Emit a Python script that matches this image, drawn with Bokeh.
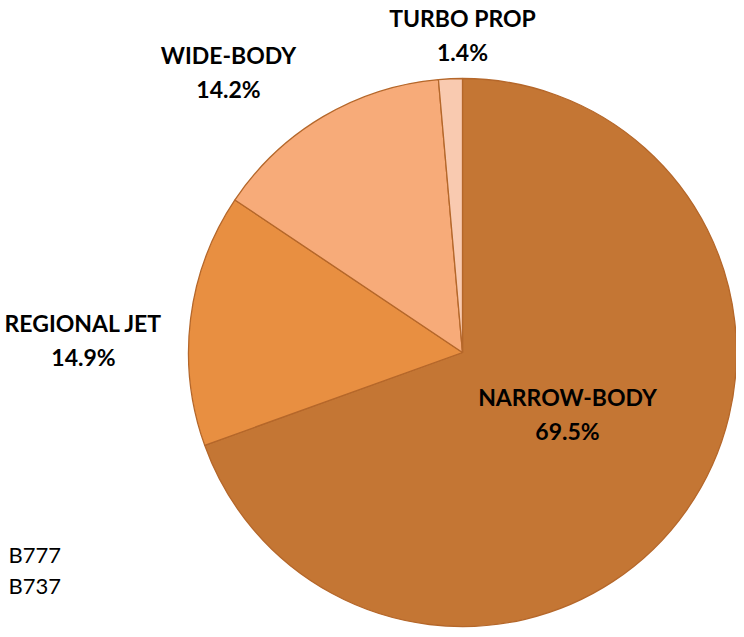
import math
from bokeh.plotting import figure
from bokeh.models import ColumnDataSource
from bokeh.core.properties import value
from bokeh.embed import file_html
from bokeh.resources import INLINE

# ---- data ----
categories = ["NARROW-BODY", "REGIONAL JET", "WIDE-BODY", "TURBO PROP"]
shares = [69.5, 14.9, 14.2, 1.4]
colors = ["#C47634", "#E88F41", "#F7AB79", "#F9CAB0"]
legend_items = ["B777", "B737"]

# ---- layout (pixel coords, y measured from top) ----
W, H = 736, 629
cx, cy_top, r = 462, 352, 274
label_pos = [(567, 396), (83, 322), (228, 54), (462, 17)]
line_gap = 34
legend_x = 8
legend_y = [554, 585]

p = figure(width=W, height=H, x_range=(0, W), y_range=(0, H),
           x_axis_type=None, y_axis_type=None, toolbar_location=None,
           output_backend="svg", min_border=0)
p.grid.visible = False
p.outline_line_color = None
p.background_fill_color = "white"
p.border_fill_color = "white"

total = sum(shares)
starts, ends = [], []
acc = 0.0
for s in shares:
    starts.append(math.pi / 2 - acc / total * 2 * math.pi)
    acc += s
    ends.append(math.pi / 2 - acc / total * 2 * math.pi)

cy = H - cy_top
src = ColumnDataSource(dict(start=starts, end=ends, color=colors,
                            x=[cx] * len(shares), y=[cy] * len(shares)))
p.wedge(x="x", y="y", radius=r, start_angle="start", end_angle="end",
        direction="clock", fill_color="color", line_color="#B5672A",
        line_width=1.3, source=src)

pcts = [f"{s:.1f}%" for s in shares]
lx = [pos[0] for pos in label_pos]
ly1 = [H - pos[1] for pos in label_pos]
ly2 = [H - pos[1] - line_gap for pos in label_pos]
lab = ColumnDataSource(dict(x=lx, y1=ly1, y2=ly2, n=list(categories), pc=pcts))
for ycol, tcol in (("y1", "n"), ("y2", "pc")):
    p.text(x="x", y=ycol, text=tcol, source=lab, text_align="center",
           text_baseline="middle", text_font=value("Lato"),
           text_font_style="bold", text_font_size="23px", text_color="black")

p.text(x=[legend_x] * len(legend_items), y=[H - v for v in legend_y],
       text=legend_items, text_align="left", text_baseline="middle",
       text_font=value("Lato"), text_font_size="22px", text_color="black")

open("out.html", "w").write(file_html(p, INLINE))
